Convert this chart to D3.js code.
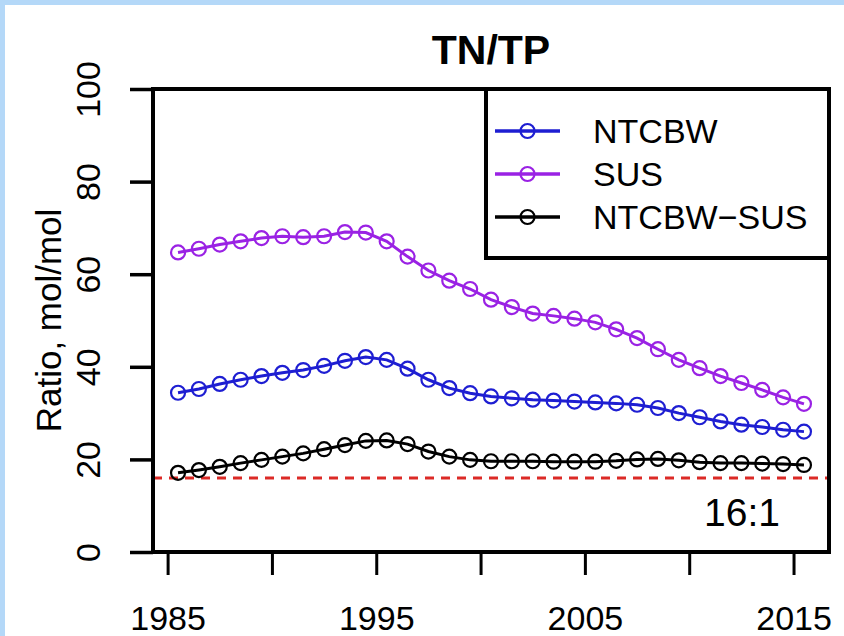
<!DOCTYPE html>
<html>
<head>
<meta charset="utf-8">
<script src="https://cdn.jsdelivr.net/npm/d3@7/dist/d3.min.js"></script>
<style>
  html, body { margin: 0; padding: 0; background: #ffffff; }
  svg { display: block; }
  text { font-family: "Liberation Sans", Arial, sans-serif; fill: #000; }
</style>
</head>
<body>
<svg id="chart" width="844" height="636"></svg>
<script>
// Mid-year sample positions (1985.5 ... 2015.5)
const years = [1985.5, 1986.5, 1987.5, 1988.5, 1989.5, 1990.5, 1991.5, 1992.5, 1993.5, 1994.5,
               1995.5, 1996.5, 1997.5, 1998.5, 1999.5, 2000.5, 2001.5, 2002.5, 2003.5, 2004.5,
               2005.5, 2006.5, 2007.5, 2008.5, 2009.5, 2010.5, 2011.5, 2012.5, 2013.5, 2014.5, 2015.5];

// TN/TP molar ratio per basin
const ntcbw = [34.4, 35.2, 36.3, 37.2, 38.0, 38.7, 39.3, 40.2, 41.3, 42.1,
               41.5, 39.6, 37.2, 35.4, 34.3, 33.6, 33.2, 32.9, 32.7, 32.5,
               32.3, 32.1, 31.8, 31.1, 30.0, 29.1, 28.2, 27.5, 27.0, 26.4, 26.0];
const sus   = [64.7, 65.5, 66.4, 67.1, 67.8, 68.2, 68.0, 68.2, 69.1, 69.0,
               67.1, 63.8, 60.8, 58.6, 56.8, 54.5, 52.9, 51.5, 51.0, 50.4,
               49.6, 48.1, 46.2, 43.8, 41.5, 39.7, 38.0, 36.5, 35.0, 33.4, 32.0];
const diff  = [17.1, 17.7, 18.4, 19.2, 19.9, 20.6, 21.3, 22.2, 23.1, 24.0,
               24.1, 23.3, 21.7, 20.6, 19.9, 19.6, 19.6, 19.6, 19.5, 19.5,
               19.5, 19.7, 20.0, 20.1, 19.8, 19.4, 19.2, 19.2, 19.1, 19.0, 18.8];

const seriesNames = ["NTCBW", "SUS", "NTCBW\u2212SUS"];
const seriesColors = ["#1e1ed2", "#9a22e4", "#000000"];
const seriesValues = [ntcbw, sus, diff];

const xTicks = [1985, 1990, 1995, 2000, 2005, 2010, 2015];
const xLabels = [1985, 1995, 2005, 2015];
const yTicks = [0, 20, 40, 60, 80, 100];
const redfield = 16;

const svg = d3.select("#chart");

// page frame: light blue strip along top and left edges
svg.append("rect").attr("x", 0).attr("y", 0).attr("width", 844).attr("height", 636).attr("fill", "#b4d8f8");
svg.append("rect").attr("x", 5).attr("y", 5).attr("width", 839).attr("height", 631).attr("fill", "#ffffff");

const plotL = 153, plotR = 829, plotT = 89, plotB = 552;
const x = d3.scaleLinear().domain([1984.3, 2016.7]).range([plotL, plotR]);
const y = d3.scaleLinear().domain([0, 100]).range([plotB, plotT]);

// x axis
const gx = svg.append("g").attr("transform", `translate(0,${plotB})`)
  .call(d3.axisBottom(x).tickValues(xTicks).tickSize(23).tickPadding(31)
        .tickFormat(d => xLabels.includes(d) ? String(d) : ""));
gx.select(".domain").remove();
gx.selectAll(".tick line").attr("stroke", "#000").attr("stroke-width", 3);
gx.selectAll(".tick text").attr("font-size", 34).attr("font-family", "Liberation Sans, Arial, sans-serif").attr("fill", "#000");

// y axis with rotated labels
const gy = svg.append("g").attr("transform", `translate(${plotL},0)`)
  .call(d3.axisLeft(y).tickValues(yTicks).tickSize(23).tickFormat(d3.format("d")));
gy.select(".domain").remove();
gy.selectAll(".tick line").attr("stroke", "#000").attr("stroke-width", 3.5);
gy.selectAll(".tick text")
  .attr("x", null).attr("dy", null).attr("y", 0)
  .attr("text-anchor", "middle")
  .attr("transform", "translate(-53,0) rotate(-90)")
  .attr("font-size", 34).attr("font-family", "Liberation Sans, Arial, sans-serif").attr("fill", "#000");

// y axis title
svg.append("text")
  .attr("transform", `translate(61,${(plotT + plotB) / 2}) rotate(-90)`)
  .attr("text-anchor", "middle").attr("font-size", 35)
  .text("Ratio, mol/mol");

// title, centred over the plot region
svg.append("text")
  .attr("x", (plotL + plotR) / 2).attr("y", 64).attr("text-anchor", "middle")
  .attr("font-size", 41).attr("font-weight", "bold")
  .text("TN/TP");

// 16:1 Redfield reference
svg.append("line")
  .attr("x1", plotL).attr("x2", plotR).attr("y1", y(redfield)).attr("y2", y(redfield))
  .attr("stroke", "#dc2a26").attr("stroke-width", 3).attr("stroke-dasharray", "9,7");
svg.append("text")
  .attr("x", 742).attr("y", 526).attr("text-anchor", "middle").attr("font-size", 39)
  .text("16:1");

// series lines and open circle markers
const line = d3.line().x((d, i) => x(years[i])).y(d => y(d));
seriesValues.forEach((vals, k) => {
  const g = svg.append("g");
  g.append("path").datum(vals).attr("d", line)
    .attr("fill", "none").attr("stroke", seriesColors[k]).attr("stroke-width", 3);
  g.selectAll("circle").data(vals).join("circle")
    .attr("cx", (d, i) => x(years[i])).attr("cy", d => y(d)).attr("r", 7)
    .attr("fill", "none").attr("stroke", seriesColors[k]).attr("stroke-width", 2.2);
});

// plot box
svg.append("rect")
  .attr("x", plotL).attr("y", plotT).attr("width", plotR - plotL).attr("height", plotB - plotT)
  .attr("fill", "none").attr("stroke", "#000").attr("stroke-width", 4);

// legend
const lg = svg.append("g");
lg.append("rect").attr("x", 486).attr("y", plotT).attr("width", plotR - 486).attr("height", 258 - plotT)
  .attr("fill", "#fff").attr("stroke", "#000").attr("stroke-width", 4);
const rowY = [131, 174, 217];
seriesNames.forEach((name, k) => {
  lg.append("line").attr("x1", 495).attr("x2", 560).attr("y1", rowY[k]).attr("y2", rowY[k])
    .attr("stroke", seriesColors[k]).attr("stroke-width", 3.5);
  lg.append("circle").attr("cx", 527.5).attr("cy", rowY[k]).attr("r", 7)
    .attr("fill", "none").attr("stroke", seriesColors[k]).attr("stroke-width", 2.2);
  lg.append("text").attr("x", 593).attr("y", rowY[k]).attr("dy", "0.36em")
    .attr("font-size", 34).text(name);
});
</script>
</body>
</html>
